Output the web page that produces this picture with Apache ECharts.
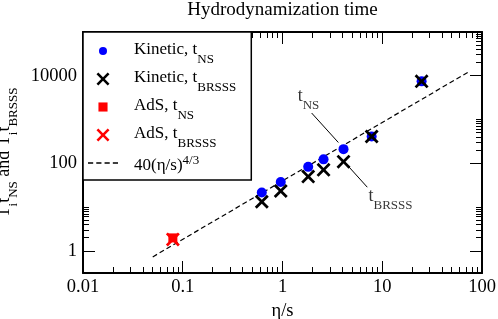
<!DOCTYPE html>
<html><head><meta charset="utf-8">
<script src="https://cdn.jsdelivr.net/npm/echarts@6/dist/echarts.min.js"></script>
<style>html,body{margin:0;padding:0;background:#fff}#c{width:498px;height:319px}</style>
</head><body><div id="c"></div>
<script>
// ---------- data ----------
const etaS = [0.62, 0.96, 1.81, 2.58, 4.09, 7.83, 24.8];
const kineticNS = [21.8, 37.9, 83.6, 124, 212, 413, 7480];
const kineticBRSSS = [13.4, 23.6, 50.1, 71.4, 110, 413, 7480];
const adsEtaS = [0.0796];
const adsNS = [2.0];
const adsBRSSS = [1.85];
const fitLineX = [0.05, 75];
const fitLineY = [0.737, 12650];

const xMajorTicks = [0.01, 0.1, 1, 10, 100];
const xTickLabels = ['0.01', '0.1', '1', '10', '100'];
const xMinorTicks = [0.02,0.03,0.04,0.05,0.06,0.07,0.08,0.09,
                     0.2,0.3,0.4,0.5,0.6,0.7,0.8,0.9,
                     2,3,4,5,6,7,8,9,
                     20,30,40,50,60,70,80,90];
const yMajorTicks = [1, 100, 10000];
const yTickLabels = ['1', '100', '10000'];
const yMinorTicks = [2,3,4,5,6,7,8,9,10,
                     200,300,400,500,600,700,800,900,1000,
                     20000,30000,40000,50000,60000,70000,80000,90000,100000];

// annotations (data coordinates)
const nsLeaderX = [1.96, 3.63], nsLeaderY = [1416, 301];
const brLeaderX = [4.23, 7.08], brLeaderY = [105, 28.7];
const nsLabelPos = [1.82, 3270];
const brLabelPos = [12.1, 16.8];

// ---------- chart ----------
const FONT = 'Liberation Serif';
const xMin = 0.01, xMax = 100, yMin = Math.pow(10, -0.5), yMax = 100000;
const MAJOR_LEN = 12, MINOR_LEN = 6;
const zip = (a, b) => a.map((v, i) => [v, b[i]]);

const XPATH = 'path://M14,0L50,36L86,0L100,14L64,50L100,86L86,100L50,64L14,100L0,86L36,50L0,14Z';
const CIRCLE_ICON = 'path://M0,0M100,100M19,50A31,31,0,1,0,81,50A31,31,0,1,0,19,50Z';
const SQUARE_ICON = 'path://M0,0M100,100M15,15L85,15L85,85L15,85Z';
const DASH_ICON = 'path://M0,0h5v1.3h-5zM8,0h5v1.3h-5zM16,0h5v1.3h-5zM24,0h5v1.3h-5z';

const rich = {
  mp: {fontFamily: FONT, fontSize: 17, lineHeight: 20, verticalAlign: 'top', color: '#000', padding: [0,0,0,11]},
  sub: {fontFamily: FONT, fontSize: 13, lineHeight: 12, verticalAlign: 'top', color: '#000', padding: [12,0,0,0]},
  m6: {fontFamily: FONT, fontSize: 17, lineHeight: 20, verticalAlign: 'top', color: '#000', padding: [4,0,0,11]},
  sup: {fontFamily: FONT, fontSize: 13, lineHeight: 12, verticalAlign: 'top', color: '#000', padding: [1,0,0,0]}
};
const rich18 = {
  m: {fontFamily: FONT, fontSize: 18, lineHeight: 20, verticalAlign: 'top', color: '#000'},
  sub: {fontFamily: FONT, fontSize: 13, lineHeight: 12, verticalAlign: 'top', color: '#000', padding: [12,0,0,0]}
};
const legendText = {
  'Kinetic, tNS': '{mp|Kinetic, t}{sub|NS}',
  'Kinetic, tBRSSS': '{mp|Kinetic, t}{sub|BRSSS}',
  'AdS, tNS': '{mp|AdS, t}{sub|NS}',
  'AdS, tBRSSS': '{mp|AdS, t}{sub|BRSSS}',
  'fit': '{m6|40(η/s)}{sup|4/3}'
};

function labelFor(majors, labels) {
  return v => {
    const i = majors.findIndex(m => Math.abs(Math.log10(m) - Math.log10(v)) < 1e-6);
    return i >= 0 ? labels[i] : '';
  };
}
const LINE = {show: true, lineStyle: {color: '#000', width: 2}};
function lineAxis(min, max, pos, extra) {
  return Object.assign({type: 'log', min: min, max: max, position: pos,
    axisLine: LINE, axisTick: {show: false}, splitLine: {show: false}, axisLabel: {show: false}}, extra || {});
}
const TICK_STYLE = {stroke: '#000', lineWidth: 1};
// inward ticks on all four sides, positioned through the axes' own scales
const xTickData = xMajorTicks.map(v => [v, 1, MAJOR_LEN]).concat(xMinorTicks.map(v => [v, 1, MINOR_LEN]));
const yTickData = yMajorTicks.map(v => [1, v, MAJOR_LEN]).concat(yMinorTicks.map(v => [1, v, MINOR_LEN]));
const snap = p => Math.round(p - 0.5) + 0.5;
function xTickRender(params, api) {
  const len = api.value(2);
  const px = snap(api.coord([api.value(0), api.value(1)])[0]);
  const cs = params.coordSys;
  const yb = cs.y + cs.height, yt = cs.y;
  return {type: 'group', children: [
    {type: 'line', shape: {x1: px, y1: yb, x2: px, y2: yb - len}, style: TICK_STYLE},
    {type: 'line', shape: {x1: px, y1: yt, x2: px, y2: yt + len}, style: TICK_STYLE}
  ]};
}
function yTickRender(params, api) {
  const len = api.value(2);
  const py = snap(api.coord([api.value(0), api.value(1)])[1]);
  const cs = params.coordSys;
  const xl = cs.x, xr = cs.x + cs.width;
  return {type: 'group', children: [
    {type: 'line', shape: {x1: xl, y1: py, x2: xl + len, y2: py}, style: TICK_STYLE},
    {type: 'line', shape: {x1: xr, y1: py, x2: xr - len, y2: py}, style: TICK_STYLE}
  ]};
}

const chart = echarts.init(document.getElementById('c'));
chart.setOption({
  animation: false,
  grid: {left: 83, right: 16, top: 32, bottom: 46, outerBoundsMode: 'none'},
  xAxis: [
    lineAxis(xMin, xMax, 'bottom', {
      axisLabel: {show: true, customValues: xMajorTicks, formatter: labelFor(xMajorTicks, xTickLabels),
                  fontFamily: FONT, fontSize: 18.5, color: '#000', margin: 5},
      name: 'η/s', nameLocation: 'middle', nameGap: 17,
      nameTextStyle: {fontFamily: FONT, fontSize: 18.5, color: '#000'}}),
    lineAxis(xMin, xMax, 'top', {
      name: 'Hydrodynamization time', nameLocation: 'middle', nameGap: 12,
      nameTextStyle: {fontFamily: FONT, fontSize: 19, color: '#000'}})
  ],
  yAxis: [
    lineAxis(yMin, yMax, 'left', {
      axisLabel: {show: true, customValues: yMajorTicks, formatter: labelFor(yMajorTicks, yTickLabels),
                  fontFamily: FONT, fontSize: 18.5, color: '#000', margin: 6},
      name: '{m|T}{sub|i}{m|t}{sub|NS}{m| and T}{sub|i}{m|t}{sub|BRSSS}',
      nameLocation: 'middle', nameGap: 66, nameRotate: 90,
      nameTextStyle: {fontFamily: FONT, fontSize: 18, color: '#000', rich: rich18}}),
    lineAxis(yMin, yMax, 'right')
  ],
  legend: {
    orient: 'vertical', left: 83, top: 32, z: 10,
    backgroundColor: '#fff', borderColor: '#000', borderWidth: 1.5, borderRadius: 0,
    padding: [9, 15, 6, 5],
    itemWidth: 30, itemHeight: 13, itemGap: 3,
    selectedMode: false,
    textStyle: {fontFamily: FONT, fontSize: 17, color: '#000', rich: rich},
    formatter: name => legendText[name],
    data: [
      {name: 'Kinetic, tNS', icon: CIRCLE_ICON},
      {name: 'Kinetic, tBRSSS', icon: XPATH},
      {name: 'AdS, tNS', icon: SQUARE_ICON},
      {name: 'AdS, tBRSSS', icon: XPATH},
      {name: 'fit', icon: DASH_ICON}
    ]
  },
  series: [
    {name: 'xTicks', type: 'custom', data: xTickData, renderItem: xTickRender, silent: true, clip: false, z: 1},
    {name: 'yTicks', type: 'custom', data: yTickData, renderItem: yTickRender, silent: true, clip: false, z: 1},
    {name: 'Kinetic, tNS', type: 'scatter', data: zip(etaS, kineticNS),
     symbol: 'circle', symbolSize: 10, itemStyle: {color: '#0000ff', opacity: 1}, z: 3},
    {name: 'Kinetic, tBRSSS', type: 'scatter', data: zip(etaS, kineticBRSSS),
     symbol: XPATH, symbolSize: 14, itemStyle: {color: '#000', opacity: 1}, z: 4},
    {name: 'AdS, tNS', type: 'scatter', data: zip(adsEtaS, adsNS),
     symbol: 'rect', symbolSize: 9, itemStyle: {color: '#ff0000', opacity: 1}, z: 3},
    {name: 'AdS, tBRSSS', type: 'scatter', data: zip(adsEtaS, adsBRSSS),
     symbol: XPATH, symbolSize: 14, itemStyle: {color: '#ff0000', opacity: 1}, z: 4},
    {name: 'fit', type: 'line', data: zip(fitLineX, fitLineY), symbol: 'none',
     lineStyle: {color: '#000', width: 1.2, type: [5, 3]}, itemStyle: {color: '#000'}, z: 2},
    {name: 'nsLeader', type: 'line', data: zip(nsLeaderX, nsLeaderY), symbol: 'none',
     lineStyle: {color: '#000', width: 1}, z: 2},
    {name: 'brLeader', type: 'line', data: zip(brLeaderX, brLeaderY), symbol: 'none',
     lineStyle: {color: '#000', width: 1}, z: 2},
    {name: 'annot', type: 'scatter', symbolSize: 1, itemStyle: {color: 'rgba(0,0,0,0)'},
     data: [
       {value: nsLabelPos, label: {formatter: '{m|t}{sub|NS}'}},
       {value: brLabelPos, label: {formatter: '{m|t}{sub|BRSSS}'}}
     ],
     label: {show: true, position: 'inside', rich: rich18, fontFamily: FONT, fontSize: 18, color: '#000'}, z: 5}
  ]
});
</script>
</body></html>
